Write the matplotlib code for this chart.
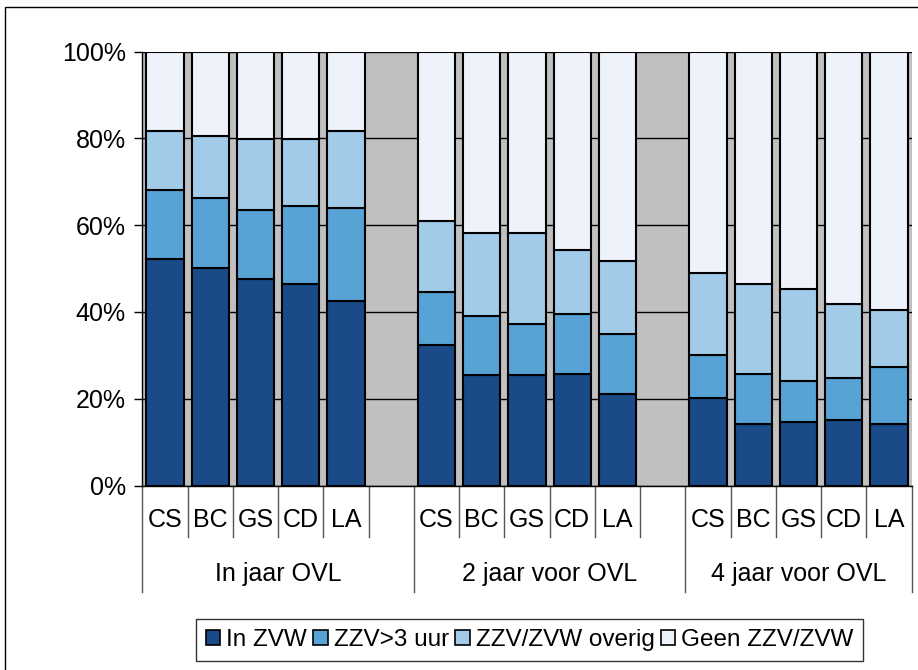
import matplotlib
matplotlib.use("Agg")
import matplotlib.pyplot as plt
from matplotlib.transforms import blended_transform_factory
from matplotlib.patches import Rectangle, Patch
import numpy as np

plt.rcParams['font.family'] = ['Liberation Sans', 'DejaVu Sans']

groups = ["In jaar OVL", "2 jaar voor OVL", "4 jaar voor OVL"]
subcats = ["CS", "BC", "GS", "CD", "LA"]
series_names = ["In ZVW", "ZZV>3 uur", "ZZV/ZVW overig", "Geen ZZV/ZVW"]

in_zvw = [52.1, 50.2, 47.5, 46.5, 42.5,
          32.3, 25.4, 25.4, 25.8, 21.2,
          20.2, 14.2, 14.6, 15.2, 14.2]
zzv_3uur = [16.1, 16.1, 16.1, 18.0, 21.5,
            12.4, 13.7, 11.9, 13.8, 13.8,
            9.8, 11.6, 9.4, 9.6, 13.1]
zzv_overig = [13.5, 14.3, 16.2, 15.3, 17.7,
              16.2, 19.0, 20.8, 14.8, 16.7,
              18.9, 20.7, 21.2, 17.1, 13.2]
geen = [18.3, 19.4, 20.2, 20.2, 18.3,
        39.1, 41.9, 41.9, 45.6, 48.3,
        51.1, 53.5, 54.8, 58.1, 59.5]

colors = ["#1A4A87", "#57A3D6", "#A2CBEA", "#EEF3FB"]

W, H = 918, 670
fig = plt.figure(figsize=(W / 100, H / 100), dpi=100)
fig.patch.set_facecolor("white")

# outer chart border
fig.patches.append(Rectangle((5 / W, -0.1), 1.2, (H - 7) / H + 0.1,
                             transform=fig.transFigure, fill=False,
                             edgecolor="black", linewidth=1.0))

left, right = 142.4, 911.6
top, bottom = 51.7, 485.5
ax = fig.add_axes([left / W, (H - bottom) / H, (right - left) / W, (bottom - top) / H])
ax.set_facecolor("#C0C0C0")

n_sub = len(subcats)
slot = n_sub + 1
positions = []
for g in range(len(groups)):
    for s in range(n_sub):
        positions.append(g * slot + s)
positions = np.array(positions, dtype=float)

bw = 0.82
data = [in_zvw, zzv_3uur, zzv_overig, geen]
base = np.zeros(len(positions))
for vals, col in zip(data, colors):
    vals = np.array(vals)
    ax.bar(positions, vals, bw, bottom=base, color=col, edgecolor="black",
           linewidth=1.5, zorder=3)
    base += vals

nslots = len(groups) * slot - 1
ax.set_xlim(-0.5, nslots - 0.5)
ax.set_ylim(0, 100)
ax.set_yticks([0, 20, 40, 60, 80, 100])
ax.set_yticklabels(["0%", "20%", "40%", "60%", "80%", "100%"], fontsize=18)
ax.yaxis.grid(True, color="black", linewidth=1.0, zorder=1)
ax.set_axisbelow(True)
ax.tick_params(axis="y", length=6, width=1.0, pad=6, direction="out")
ax.set_xticks([])
for sp in ["top", "right"]:
    ax.spines[sp].set_visible(False)
ax.spines["left"].set_linewidth(1.0)
ax.spines["bottom"].set_linewidth(1.0)

# multi-level category axis
trans = blended_transform_factory(ax.transData, ax.transAxes)
ah = bottom - top
row1 = -(520 - bottom) / ah
row2 = -(574 - bottom) / ah
short_end = -(537 - bottom) / ah
long_end = -(592 - bottom) / ah

for p, lab in zip(positions, subcats * len(groups)):
    ax.text(p, row1, lab, transform=trans, ha="center", va="center", fontsize=18)

for g, gname in enumerate(groups):
    start = g * slot - 0.5
    end = min(g * slot + slot - 0.5, nslots - 0.5)
    ax.text((start + end) / 2, row2, gname, transform=trans, ha="center",
            va="center", fontsize=18)
    ax.plot([start, start], [0, long_end], transform=trans, color="#555555",
            linewidth=1.0, clip_on=False)
    for s in range(1, n_sub + 1):
        x = g * slot + s - 0.5
        if x < end:
            ax.plot([x, x], [0, short_end], transform=trans, color="#555555",
                    linewidth=1.0, clip_on=False)
ax.plot([nslots - 0.5, nslots - 0.5], [0, long_end], transform=trans,
        color="#555555", linewidth=1.0, clip_on=False)

handles = [Patch(facecolor=c, edgecolor="black", linewidth=1.2) for c in colors]
leg = fig.legend(handles, series_names, loc="center", bbox_to_anchor=(0.577, 0.045),
                 ncol=4, fontsize=17.5, frameon=True, fancybox=False,
                 edgecolor="black", handlelength=0.6, handleheight=0.6,
                 handletextpad=0.25, columnspacing=0.25, borderpad=0.4,
                 borderaxespad=0.3)
leg.get_frame().set_linewidth(1.0)

fig.savefig("out.png", dpi=100)
